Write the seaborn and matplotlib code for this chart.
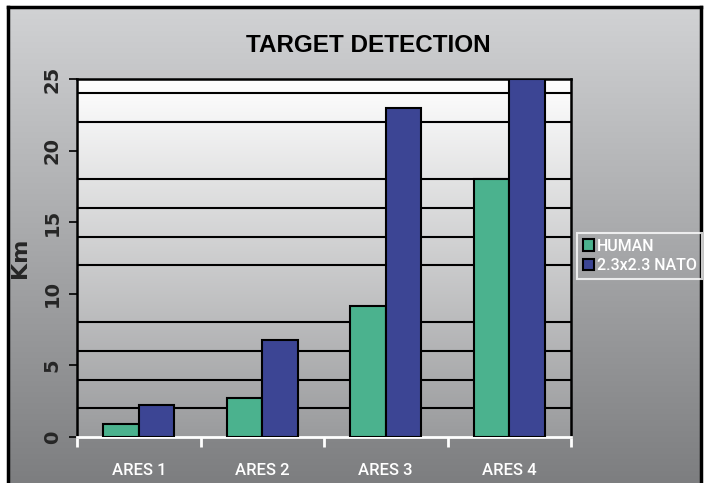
import numpy as np
import pandas as pd
import matplotlib
matplotlib.use("Agg")
import matplotlib.pyplot as plt
import seaborn as sns

# datos del grafico
sistemas = ["ARES 1", "ARES 2", "ARES 3", "ARES 4"]
human = [0.9, 2.7, 9.15, 18.0]
nato = [2.2, 6.8, 23.0, 25.0]
series = ["HUMAN", "2.3x2.3 NATO"]
colores = ["#4bb28e", "#3c4594"]

df = pd.DataFrame({
    "sistema": sistemas * 2,
    "km": human + nato,
    "serie": [series[0]] * 4 + [series[1]] * 4,
})

sns.set_style("white")
plt.rcParams["font.family"] = ["Liberation Sans", "DejaVu Sans"]
fuente_estrecha = ["Roboto", "Liberation Sans", "DejaVu Sans"]

W, H = 704, 483
fig = plt.figure(figsize=(W / 100, H / 100), dpi=100)
fig.patch.set_facecolor("white")

# fondo exterior con degradado gris
bg = fig.add_axes([8 / W, 0, (701 - 8) / W, (H - 7) / H], zorder=-2)
grad = np.linspace(0, 1, 256).reshape(-1, 1)
cmap_bg = matplotlib.colors.LinearSegmentedColormap.from_list("bg", ["#d1d2d4", "#7d7e80"])
bg.imshow(grad, aspect="auto", cmap=cmap_bg, extent=[0, 1, 0, 1])
bg.set_xticks([])
bg.set_yticks([])
for s in ["top", "left", "right"]:
    bg.spines[s].set_color("black")
    bg.spines[s].set_linewidth(2.5)
bg.spines["bottom"].set_visible(False)

# area del grafico
ax = fig.add_axes([77 / W, (H - 437) / H, (571 - 77) / W, (437 - 79) / H])
cmap_ax = matplotlib.colors.LinearSegmentedColormap.from_list("ax", ["#ffffff", "#9a9b9d"])
ax.imshow(grad, aspect="auto", cmap=cmap_ax, extent=[0, 1, 0, 1],
          transform=ax.transAxes, zorder=0)

sns.barplot(data=df, x="sistema", y="km", hue="serie", palette=colores,
            saturation=1, width=0.575, edgecolor="black", linewidth=1.5,
            ax=ax, zorder=3)

ax.set_xlim(-0.5, 3.5)
ax.set_ylim(0, 25)

# lineas de cuadricula cada 2 km
ax.set_yticks(np.arange(2, 25, 2), minor=True)
ax.grid(which="minor", axis="y", color="black", linewidth=1.5, zorder=1)
ax.grid(which="major", visible=False)
ax.set_axisbelow(True)

ax.set_yticks([0, 5, 10, 15, 20, 25])
ax.tick_params(axis="y", which="major", direction="out", length=6, width=1.2,
               color="black", left=True, pad=5, labelsize=14, labelrotation=90)
ax.tick_params(axis="y", which="minor", length=0)
for lbl in ax.get_yticklabels():
    lbl.set_fontweight("bold")
    lbl.set_family("DejaVu Sans")
    lbl.set_va("center")

ax.set_xticks(range(4))
ax.set_xticklabels(sistemas, color="white", fontsize=12, family=fuente_estrecha,
                   fontweight="medium")
ax.set_xticks([-0.5, 0.5, 1.5, 2.5, 3.5], minor=True)
ax.tick_params(axis="x", which="major", length=0, pad=19)
ax.tick_params(axis="x", which="minor", direction="out", length=7, width=2,
               color="white", bottom=True)

for s in ["top", "right", "left"]:
    ax.spines[s].set_color("black")
    ax.spines[s].set_linewidth(1.8)
ax.spines["bottom"].set_color("white")
ax.spines["bottom"].set_linewidth(2)

ax.set_xlabel("")
ax.set_ylabel("Km", fontsize=16, fontweight="bold", family="DejaVu Sans")
ax.yaxis.set_label_coords(-0.095, 0.5)

# leyenda
handles, labels = ax.get_legend_handles_labels()
ax.legend_.remove()
leg = fig.legend(handles, labels, loc="upper left", bbox_to_anchor=(577 / W, (H - 233) / H),
                 bbox_transform=fig.transFigure, frameon=True, fancybox=False,
                 handlelength=0.7, handleheight=0.7, handletextpad=0.2,
                 borderpad=0.35, labelspacing=0.3, borderaxespad=0,
                 prop={"size": 11.5, "family": fuente_estrecha, "weight": "medium"})
leg.get_frame().set_facecolor("none")
leg.get_frame().set_edgecolor("white")
leg.get_frame().set_linewidth(1.5)
for t in leg.get_texts():
    t.set_color("white")

fig.text(368 / W, (H - 45) / H, "TARGET DETECTION", ha="center", va="center",
         fontsize=17.5, fontweight="bold", color="black")

fig.savefig("out.png", dpi=100)
